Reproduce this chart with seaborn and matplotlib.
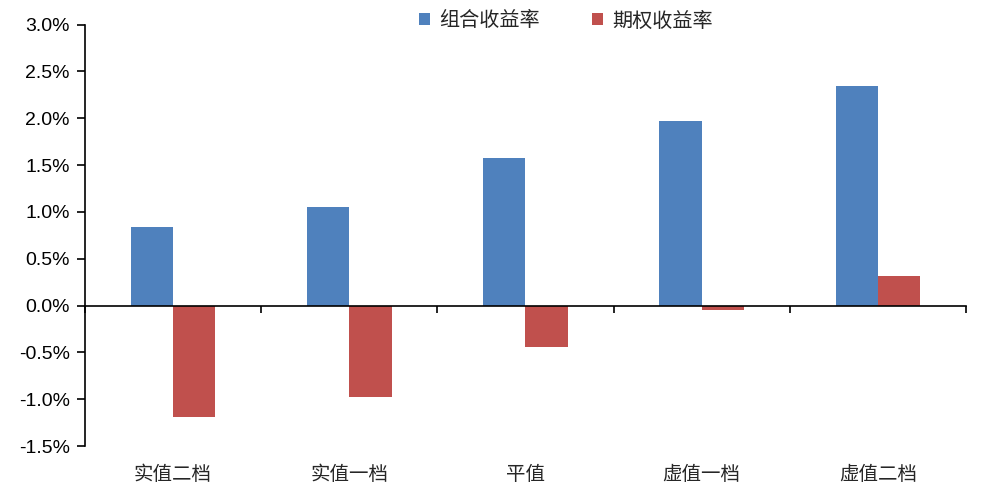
import pandas as pd
import seaborn as sns
import matplotlib.pyplot as plt
from matplotlib.ticker import PercentFormatter, FixedLocator

# -------------------------
# data (in %)
# -------------------------
categories = ["实值二档", "实值一档", "平值", "虚值一档", "虚值二档"]
portfolio_ret = [0.84, 1.05, 1.58, 1.97, 2.34]
option_ret = [-1.19, -0.98, -0.44, -0.05, 0.32]
series_names = ["组合收益率", "期权收益率"]
colors = ["#4F81BD", "#C0504D"]

df = pd.DataFrame({
    "cat": categories * 2,
    "series": [series_names[0]] * 5 + [series_names[1]] * 5,
    "value": portfolio_ret + option_ret,
})

# -------------------------
# plot
# -------------------------
sns.set_style("white")
plt.rcParams["font.family"] = ["Liberation Sans", "Noto Sans CJK SC"]
plt.rcParams["axes.unicode_minus"] = False

fig = plt.figure(figsize=(9.81, 4.98), dpi=100)
ax = fig.add_axes([0.0866, 0.1044, 0.8981, 0.8464])

sns.barplot(data=df, x="cat", y="value", hue="series", palette=colors,
            order=categories, hue_order=series_names, width=0.48,
            saturation=1, linewidth=0, ax=ax, legend=True)

ax.set_ylim(-1.5, 3.0)
ax.set_xlim(-0.5, 4.5)
ax.set_yticks([-1.5, -1.0, -0.5, 0, 0.5, 1.0, 1.5, 2.0, 2.5, 3.0])
ax.yaxis.set_major_formatter(PercentFormatter(decimals=1))
ax.tick_params(axis="y", direction="out", length=6, width=1.2, labelsize=14,
               pad=5, colors="black", left=True)
ax.set_xlabel("")
ax.set_ylabel("")

# x axis line at zero with boundary ticks
for s in ["top", "right"]:
    ax.spines[s].set_visible(False)
ax.spines["left"].set_linewidth(1.2)
ax.spines["left"].set_color("black")
ax.spines["bottom"].set_position(("data", 0))
ax.spines["bottom"].set_linewidth(1.2)
ax.spines["bottom"].set_color("black")
ax.xaxis.set_major_locator(FixedLocator([-0.5, 0.5, 1.5, 2.5, 3.5, 4.5]))
ax.set_xticklabels([])
ax.tick_params(axis="x", direction="out", length=5, width=1.2, colors="black", bottom=True)

# category labels below the plot area
sec = ax.secondary_xaxis("bottom")
sec.set_xticks(range(len(categories)))
sec.set_xticklabels(categories, fontsize=14, family=["Noto Sans CJK SC"])
sec.tick_params(length=0, pad=13)
sec.spines["bottom"].set_visible(False)

# legend
handles, labels = ax.get_legend_handles_labels()
ax.legend(handles, labels, loc="center", bbox_to_anchor=(0.577, 0.958),
          bbox_transform=fig.transFigure, ncol=2, frameon=False,
          prop={"family": "Noto Sans CJK SC", "size": 14.5},
          handlelength=0.55, handleheight=0.55, handletextpad=0.45,
          columnspacing=2.6)

fig.savefig("out.png", dpi=100)
